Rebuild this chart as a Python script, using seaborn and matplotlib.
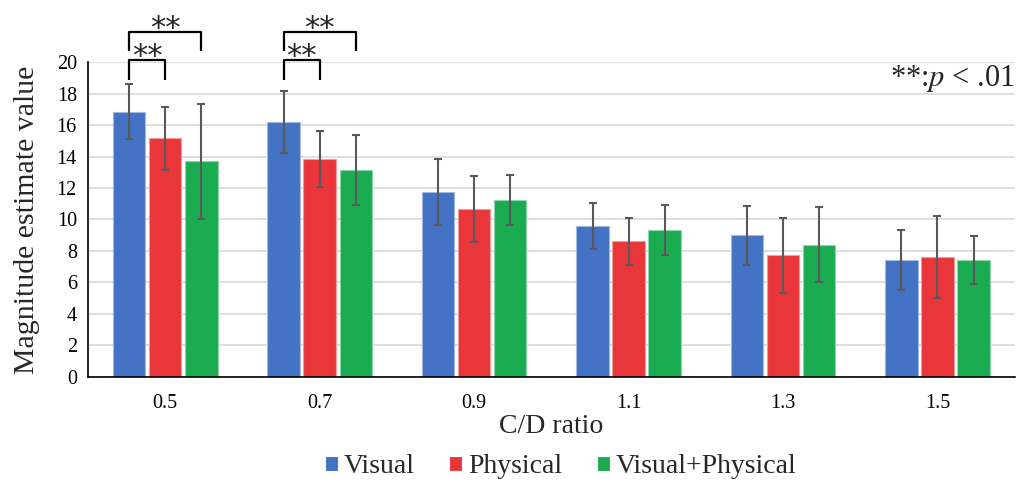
import numpy as np
import pandas as pd
import seaborn as sns
import matplotlib.pyplot as plt
import matplotlib.colors as mcolors
from matplotlib.font_manager import FontProperties

# Mean magnitude estimates and standard deviations per C/D ratio and condition
ratios = ["0.5", "0.7", "0.9", "1.1", "1.3", "1.5"]
conditions = ["Visual", "Physical", "Visual+Physical"]
visual_mean = [16.85, 16.2, 11.77, 9.6, 8.99, 7.43]
visual_sd = [1.75, 1.95, 2.1, 1.45, 1.87, 1.9]
physical_mean = [15.17, 13.84, 10.69, 8.61, 7.72, 7.62]
physical_sd = [2.0, 1.75, 2.1, 1.5, 2.4, 2.58]
combined_mean = [13.7, 13.14, 11.22, 9.35, 8.41, 7.43]
combined_sd = [3.65, 2.2, 1.6, 1.6, 2.37, 1.5]
colors = ["#4472C4", "#E8363B", "#1BAC52"]

means = [visual_mean, physical_mean, combined_mean]
sds = [visual_sd, physical_sd, combined_sd]

df = pd.DataFrame({
    "ratio": np.tile(ratios, len(conditions)),
    "condition": np.repeat(conditions, len(ratios)),
    "value": np.concatenate(means),
})

sns.set_theme(style="white")
plt.rcParams["font.family"] = ["Liberation Serif", "DejaVu Serif"]
plt.rcParams["mathtext.fontset"] = "stix"

fig = plt.figure(figsize=(10.26, 4.83), dpi=100)
ax = fig.add_axes([0.0858, 0.2195, 0.9032, 0.6521])

sns.barplot(data=df, x="ratio", y="value", hue="condition", order=ratios,
            hue_order=conditions, palette=colors, saturation=1, width=0.7,
            gap=0.1, errorbar=None, linewidth=0.8, ax=ax, zorder=2)

# Bar centres per condition, taken from the drawn bars
bar_containers = list(ax.containers)
centers = [[p.get_x() + p.get_width() / 2 for p in c.patches] for c in bar_containers]

# Lighter outline on each bar, and error bars at the bar centres
for cont, xs, col, m, s in zip(bar_containers, centers, colors, means, sds):
    light = mcolors.to_rgb(col)
    light = tuple(c + (1 - c) * 0.5 for c in light)
    for p in cont.patches:
        p.set_edgecolor(light)
    ax.errorbar(xs, m, yerr=s, fmt="none", ecolor="#595959", elinewidth=1.5,
                capsize=3, capthick=1.5, zorder=3)

ax.set_ylim(0, 20)
ax.set_yticks(np.arange(0, 21, 2))
ax.set_xlim(-0.5, len(ratios) - 0.5)
ax.yaxis.grid(True, color="#D9D9D9", linewidth=1.2, zorder=0)
ax.set_axisbelow(True)
for side in ["top", "right"]:
    ax.spines[side].set_visible(False)
ax.spines["left"].set_color("black")
ax.spines["bottom"].set_color("black")
ax.spines["left"].set_linewidth(1.2)
ax.spines["bottom"].set_linewidth(1.2)
ax.tick_params(axis="both", length=0, labelsize=14.5, colors="black")
ax.tick_params(axis="x", pad=12)
ax.tick_params(axis="y", pad=8)
ax.set_xlabel("C/D ratio", fontsize=20, labelpad=1)
ax.set_ylabel("Magnitude estimate value", fontsize=21.5, labelpad=12)


def bracket(x0, x1, y_top, y_leg, label_y):
    ax.plot([x0, x0, x1, x1], [y_leg, y_top, y_top, y_leg], color="black",
            lw=1.6, clip_on=False, solid_joinstyle="round", solid_capstyle="butt")
    ax.text((x0 + x1) / 2, label_y, "**", ha="center", va="baseline",
            fontsize=22, clip_on=False, family="DejaVu Sans")


# Significance brackets above the first two groups
for gi in [0, 1]:
    xb, xr, xg = centers[0][gi], centers[1][gi], centers[2][gi]
    bracket(xb, xr, 20.13, 18.86, 19.78)
    bracket(xb, xg, 21.92, 20.7, 21.62)

ax.text(1.0, 18.98, r"**:$p$ < .01", ha="right", va="center", fontsize=22,
        transform=ax.get_yaxis_transform())

# Legend below the axis title
handles, labels = ax.get_legend_handles_labels()
ax.legend(handles, labels, loc="center", bbox_to_anchor=(0.51, -0.285), ncol=3,
          frameon=False, prop=FontProperties(family="Liberation Serif", size=20),
          handlelength=0.47, handleheight=0.47, handletextpad=0.2,
          columnspacing=1.25)

fig.savefig("out.png", dpi=100)
